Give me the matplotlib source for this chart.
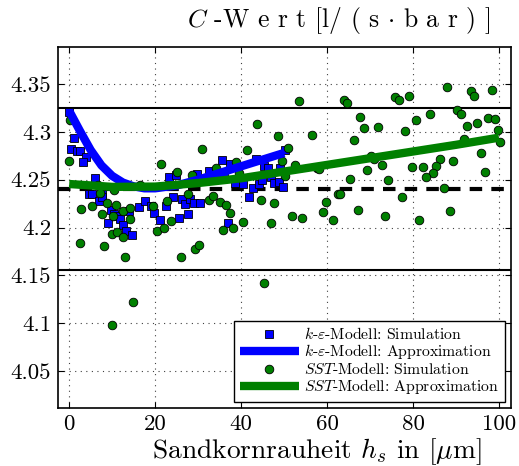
import matplotlib
matplotlib.use("Agg")
import matplotlib.pyplot as plt
import numpy as np

plt.rcParams['font.family'] = 'serif'
plt.rcParams['font.serif'] = ['cmr10', 'DejaVu Serif']
plt.rcParams['mathtext.fontset'] = 'cm'
plt.rcParams['axes.formatter.use_mathtext'] = True
plt.rcParams['axes.unicode_minus'] = False

# k-epsilon simulation points
ke_x = [0, 1.1, 0.4, 1.8, 2.5, 3.8, 3.2, 6.0, 4.7, 5.4, 7.7, 6.9, 7.6, 9.7, 10.5, 11.1,
        11.9, 9.0, 12.6, 13.9, 13.3, 14.7, 16.2, 17.7, 19.0, 19.8, 21.1, 22.6, 24.1,
        23.3, 24.8, 25.5, 26.3, 26.9, 27.6, 28.0, 29.1, 30.5, 29.8, 35.6, 37.5, 38.6,
        40.5, 41.9, 42.8, 43.4, 44.1, 44.9, 45.4, 46.3, 47.0, 47.6, 48.8, 36.9, 32.5,
        36.1, 50.2, 49.1, 49.7]
ke_y = [4.321, 4.294, 4.282, 4.280, 4.280, 4.274, 4.269, 4.252, 4.235, 4.235, 4.235,
        4.228, 4.232, 4.218, 4.214, 4.212, 4.209, 4.205, 4.203, 4.217, 4.196, 4.192,
        4.221, 4.228, 4.223, 4.215, 4.208, 4.223, 4.232, 4.253, 4.255, 4.210, 4.230,
        4.225, 4.214, 4.230, 4.226, 4.226, 4.256, 4.271, 4.266, 4.247, 4.246, 4.232,
        4.241, 4.272, 4.245, 4.250, 4.264, 4.262, 4.253, 4.247, 4.248, 4.205, 4.259,
        4.255, 4.281, 4.262, 4.242]

# SST simulation points
sst_x = [0.2, 0, 31, 21.3, 43.7, 41.3, 48.6, 25.1, 28.5, 34.1, 38.8, 39.6, 16.5, 6.7,
         10.5, 2.8, 5.2, 7.6, 8.9, 10.8, 10.1, 12.5, 14.2, 14.1, 19.5, 22.8, 23.6, 20.4,
         22.1, 32.5, 33.4, 35.0, 36.5, 37.3, 35.8, 38.1, 40.5, 44.6, 47.0, 47.7, 27.7,
         10.0, 11.2, 12.6, 7.2, 53.4, 63.9, 64.6, 75.9, 76.7, 79.1, 87.9, 93.5, 94.3,
         98.3, 51.0, 56.6, 67.7, 66.3, 68.7, 71.8, 78.2, 80.6, 83.9, 90.3, 91.1, 92.6,
         95.0, 97.5, 99.1, 99.8, 100.3, 91.9, 95.9, 96.7, 89.4, 86.3, 85.3, 84.7, 83.0,
         82.3, 79.8, 87.1, 77.4, 88.7, 81.5, 73.4, 74.2, 72.7, 71.0, 70.2, 69.4, 65.4,
         67.1, 62.5, 63.0, 59.8, 59.0, 61.4, 57.6, 58.1, 52.6, 51.8, 54.2, 50.2, 49.4,
         2.4, 8.1, 13.0, 26.1, 29.2, 30.2, 14.9, 10.0, 45.3]
sst_y = [4.312, 4.270, 4.282, 4.266, 4.308, 4.281, 4.296, 4.258, 4.255, 4.262, 4.268,
         4.257, 4.244, 4.244, 4.239, 4.219, 4.222, 4.214, 4.226, 4.224, 4.212, 4.217,
         4.220, 4.209, 4.222, 4.228, 4.207, 4.196, 4.200, 4.229, 4.233, 4.227, 4.224,
         4.215, 4.197, 4.200, 4.206, 4.229, 4.205, 4.226, 4.235, 4.193, 4.195, 4.190,
         4.236, 4.332, 4.333, 4.330, 4.337, 4.333, 4.338, 4.347, 4.343, 4.338, 4.344,
         4.283, 4.297, 4.316, 4.292, 4.304, 4.305, 4.301, 4.312, 4.319, 4.323, 4.319,
         4.306, 4.309, 4.315, 4.313, 4.302, 4.289, 4.293, 4.278, 4.258, 4.270, 4.272,
         4.264, 4.257, 4.253, 4.263, 4.263, 4.241, 4.232, 4.217, 4.208, 4.212, 4.250,
         4.265, 4.272, 4.275, 4.260, 4.251, 4.218, 4.235, 4.235, 4.227, 4.216, 4.208,
         4.262, 4.261, 4.265, 4.212, 4.210, 4.254, 4.270, 4.184, 4.181, 4.169, 4.169,
         4.178, 4.182, 4.122, 4.098, 4.142]

# Approximation curves
ke_fit_x = [0, 2.5, 5, 7.5, 10, 12.5, 15, 17.5, 20, 25, 30, 35, 40, 45, 50]
ke_fit_y = [4.322, 4.301, 4.281, 4.265, 4.254, 4.247, 4.243, 4.241, 4.241, 4.244,
            4.250, 4.257, 4.264, 4.271, 4.278]
sst_fit_x = [0, 10, 20, 30, 40, 50, 60, 70, 80, 90, 100]
sst_fit_y = [4.2455, 4.2425, 4.2428, 4.2465, 4.2515, 4.2585, 4.2655, 4.2725, 4.2795,
             4.2865, 4.294]

# reference levels
c_mean = 4.24
c_upper = 4.3248
c_lower = 4.1552

x_ticks = [0, 20, 40, 60, 80, 100]
y_ticks = [4.05, 4.1, 4.15, 4.2, 4.25, 4.3, 4.35]
y_ticklabels = ['4.05', '4.1', '4.15', '4.2', '4.25', '4.3', '4.35']

fig = plt.figure(figsize=(5.19, 4.66), dpi=100)
ax = fig.add_axes([0.1118, 0.1245, 0.8728, 0.7746])

ax.axhline(c_upper, color='k', lw=1.5, zorder=1)
ax.axhline(c_lower, color='k', lw=1.5, zorder=1)
ax.axhline(c_mean, color='k', lw=3, ls=(0, (3, 2.2)), zorder=1)

ax.plot(ke_x, ke_y, 's', color='blue', mec='k', mew=0.6, ms=5.2, zorder=3,
        label=r'$k$-$\varepsilon$-Modell: Simulation')
ax.plot(sst_x, sst_y, 'o', color='green', mec='k', mew=0.6, ms=6.2, zorder=3,
        label=r'$SST$-Modell: Simulation')
ax.plot(ke_fit_x, ke_fit_y, '-', color='blue', lw=6, zorder=4, solid_capstyle='butt',
        label=r'$k$-$\varepsilon$-Modell: Approximation')
ax.plot(sst_fit_x, sst_fit_y, '-', color='green', lw=6, zorder=5, solid_capstyle='butt',
        label=r'$SST$-Modell: Approximation')

ax.set_xlim(-2.6, 102.8)
ax.set_ylim(4.0112, 4.3888)
ax.set_xticks(x_ticks)
ax.set_xticklabels([str(t) for t in x_ticks])
ax.set_yticks(y_ticks)
ax.set_yticklabels(y_ticklabels)
ax.tick_params(direction='in', length=4, width=0.8, top=True, right=True,
               labelsize=16.5, pad=5)
ax.grid(True, color='0.25', lw=0.8, ls=(0, (1, 4)))
ax.set_axisbelow(True)
for s in ax.spines.values():
    s.set_linewidth(1.2)

ax.set_xlabel(r'Sandkornrauheit $h_s$ in [$\mu$m]', fontsize=19.8, va='center')
ax.xaxis.set_label_coords(0.572, -0.122)
fig.text(0.945, 0.957, r'$C$ -W e r t [l/ ( s $\cdot$ b a r ) ]', fontsize=18.5,
         ha='right', va='center')

h, l = ax.get_legend_handles_labels()
order = [0, 2, 1, 3]
leg = ax.legend([h[i] for i in order], [l[i] for i in order], loc='lower right',
                fontsize=11.3, fancybox=False, edgecolor='k', framealpha=1,
                labelspacing=0.0, handlelength=3.8, handletextpad=0.3,
                borderpad=0.35, borderaxespad=0.4)
leg.get_frame().set_linewidth(1.0)

fig.savefig('out.png', dpi=100)
